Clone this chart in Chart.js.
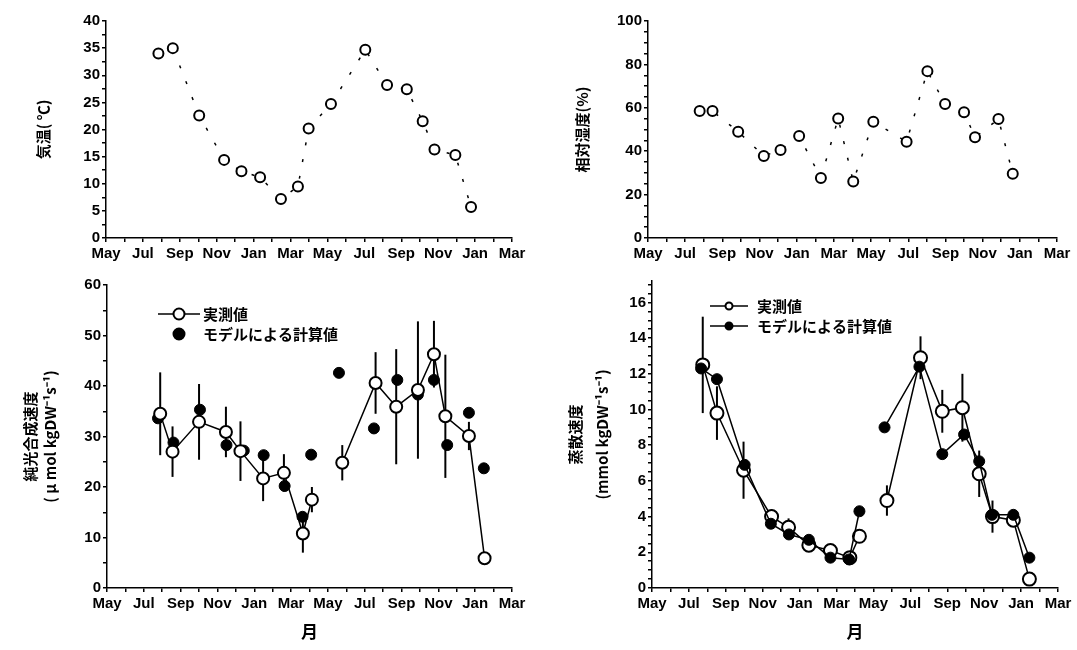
<!DOCTYPE html>
<html>
<head>
<meta charset="utf-8">
<script src="https://cdn.jsdelivr.net/npm/chart.js@4.4.0/dist/chart.umd.min.js"></script>
<style>
  body { margin: 0; background: #fff; width: 1077px; height: 650px; overflow: hidden; position: relative; }
  .box { position: absolute; }
</style>
</head>
<body>
<div class="box" style="left:0;top:0;width:540px;height:270px"><canvas id="tempChart"></canvas></div>
<div class="box" style="left:540px;top:0;width:537px;height:270px"><canvas id="humChart"></canvas></div>
<div class="box" style="left:0;top:270px;width:540px;height:380px"><canvas id="photoChart"></canvas></div>
<div class="box" style="left:540px;top:270px;width:537px;height:380px"><canvas id="transChart"></canvas></div>
<script>
// x axis: month index, 0 = May of first year, one tick per month
const monthLabels = ['May', 'Jul', 'Sep', 'Nov', 'Jan', 'Mar', 'May', 'Jul', 'Sep', 'Nov', 'Jan', 'Mar'];
const legendLabels = ['実測値', 'モデルによる計算値'];

// 気温
const tempMonth = [2.84, 3.62, 5.05, 6.4, 7.34, 8.35, 9.48, 10.4, 10.98, 12.19, 14.05, 15.23, 16.3, 17.16, 17.8, 18.93, 19.78];
const tempValue = [34.0, 35.0, 22.6, 14.4, 12.3, 11.2, 7.2, 9.5, 20.2, 24.7, 34.7, 28.2, 27.4, 21.5, 16.3, 15.3, 5.7];

// 相対湿度
const humMonth = [2.78, 3.47, 4.85, 6.23, 7.13, 8.13, 9.3, 10.23, 11.04, 12.12, 13.91, 15.03, 15.98, 17.0, 17.59, 18.85, 19.62];
const humValue = [58.5, 58.5, 49.0, 37.8, 40.6, 47.0, 27.6, 55.1, 26.0, 53.6, 44.4, 76.9, 61.7, 57.9, 46.4, 54.8, 29.6];

// 純光合成速度
const photoMonth = [2.89, 3.56, 5.0, 6.46, 7.25, 8.48, 9.61, 10.64, 11.13, 12.78, 14.59, 15.71, 16.89, 17.76, 18.38, 19.66, 20.51];
const photoMeasured = [34.5, 27.0, 32.9, 30.9, 27.1, 21.7, 22.8, 10.8, 17.5, 24.8, 40.6, 35.9, 39.2, 46.3, 34.0, 30.1, 5.9];
const photoError = [8.2, 5.0, 7.5, 5.0, 5.9, 4.5, 3.7, 3.8, 2.5, 3.5, 6.1, 11.4, 13.6, 6.6, 12.2, 2.8, 0.8];
const photoModelMonth = [2.77, 3.61, 5.05, 6.49, 7.43, 8.51, 9.65, 10.62, 11.09, 12.6, 14.5, 15.77, 16.89, 17.76, 18.48, 19.66, 20.47];
const photoModel = [33.6, 28.8, 35.3, 28.3, 27.2, 26.3, 20.2, 14.1, 26.4, 42.6, 31.6, 41.2, 38.3, 41.2, 28.3, 34.7, 23.7];

// 蒸散速度
const transMonth = [2.75, 3.52, 4.96, 6.48, 7.4, 8.5, 9.67, 10.72, 11.24, 12.73, 14.55, 15.73, 16.82, 17.73, 18.45, 19.58, 20.45];
const transMeasured = [12.5, 9.8, 6.6, 4.0, 3.4, 2.4, 2.1, 1.7, 2.9, 4.9, 12.9, 9.9, 10.1, 6.4, 4.0, 3.8, 0.5];
const transError = [2.7, 1.5, 1.6, 0.4, 0.5, 0.3, 0.3, 0.2, 0, 0.85, 1.2, 1.2, 1.9, 1.3, 0.9, 0.2, 0];
const transModelMonth = [2.66, 3.52, 5.02, 6.44, 7.42, 8.5, 9.67, 10.68, 11.24, 12.6, 14.49, 15.73, 16.91, 17.73, 18.42, 19.58, 20.45];
const transModel = [12.3, 11.7, 6.9, 3.6, 3.0, 2.7, 1.7, 1.6, 4.3, 9.0, 12.4, 7.5, 8.6, 7.1, 4.1, 4.1, 1.7];

const tickFont = { family: 'Liberation Sans', size: 15, weight: 'bold' };
const jpFont = 'Noto Sans CJK JP';

function pts(xs, ys) {
  return xs.map((x, i) => ({ x: x, y: ys[i] }));
}

// error bars + in-plot legend
const extras = {
  id: 'extras',
  beforeDatasetsDraw(chart, args, opts) {
    if (!opts.errors) return;
    const { ctx, scales: { x, y } } = chart;
    const data = chart.data.datasets[opts.dataset].data;
    ctx.save();
    ctx.strokeStyle = '#000';
    ctx.lineWidth = 2;
    data.forEach((p, i) => {
      const e = opts.errors[i];
      if (!e) return;
      const px = x.getPixelForValue(p.x);
      ctx.beginPath();
      ctx.moveTo(px, y.getPixelForValue(p.y - e));
      ctx.lineTo(px, y.getPixelForValue(p.y + e));
      ctx.stroke();
    });
    ctx.restore();
  },
  afterDraw(chart, args, opts) {
    if (!opts.legend) return;
    const { ctx, chartArea } = chart;
    const L = opts.legend;
    ctx.save();
    L.items.forEach((it, i) => {
      const yy = chartArea.top + L.top + i * L.gap;
      const x0 = chartArea.left + L.left;
      ctx.strokeStyle = '#000';
      ctx.lineWidth = 1.5;
      if (it.line) {
        ctx.beginPath();
        ctx.moveTo(x0, yy);
        ctx.lineTo(x0 + L.lineLen, yy);
        ctx.stroke();
      }
      ctx.beginPath();
      ctx.arc(x0 + L.lineLen / 2, yy, L.r, 0, Math.PI * 2);
      ctx.fillStyle = it.filled ? '#000' : '#fff';
      ctx.fill();
      ctx.lineWidth = 2;
      ctx.stroke();
      ctx.fillStyle = '#000';
      ctx.font = 'bold 15px "' + jpFont + '"';
      ctx.textBaseline = 'middle';
      ctx.fillText(it.text, x0 + L.lineLen + L.textGap, yy);
    });
    ctx.restore();
  }
};
Chart.register(extras);

function makeOptions(cfg) {
  return {
    responsive: true,
    maintainAspectRatio: false,
    animation: false,
    layout: { padding: cfg.padding },
    plugins: { legend: { display: false }, tooltip: { enabled: false }, extras: cfg.extras || {} },
    scales: {
      x: {
        type: 'linear', min: 0, max: 22,
        afterFit: s => { s.height = cfg.xHeight; },
        border: { color: '#000', width: 1.5 },
        grid: { drawOnChartArea: false, color: '#000', tickLength: 4, lineWidth: 1.5 },
        ticks: {
          stepSize: 1, autoSkip: false, maxRotation: 0, padding: 3, color: '#000', font: tickFont,
          includeBounds: false,
          callback: v => (Number.isInteger(v) && v % 2 === 0) ? monthLabels[v / 2] : ''
        },
        title: {
          display: !!cfg.xTitle, text: cfg.xTitle || '', color: '#000',
          font: { family: jpFont, size: 17, weight: 'bold' }, padding: { top: 0, bottom: 8 }
        }
      },
      y: {
        min: 0, max: cfg.yMax,
        afterFit: s => { s.width = cfg.yWidth; },
        border: { color: '#000', width: 1.5 },
        grid: { drawOnChartArea: false, color: '#000', tickLength: 4, lineWidth: 1.5 },
        ticks: {
          stepSize: cfg.yStep, autoSkip: false, padding: 2, color: '#000', font: tickFont,
          includeBounds: false,
          callback: v => {
            const r = v / cfg.yLabelStep;
            return (Math.abs(r - Math.round(r)) < 1e-6 && v <= cfg.yLabelMax) ? String(v) : '';
          }
        },
        title: {
          display: true, text: cfg.yTitle, color: '#000',
          font: { family: jpFont, size: 15, weight: 'bold', lineHeight: cfg.yTitleLH || 1.3 },
          padding: { top: cfg.yTitlePad, bottom: 0 }
        }
      }
    }
  };
}

function openSeries(data, extra) {
  return Object.assign({
    data: data,
    borderColor: '#000',
    borderWidth: 1.5,
    pointRadius: 5.5,
    pointBorderWidth: 2,
    pointBackgroundColor: '#fff',
    pointBorderColor: '#000',
    fill: false,
    tension: 0
  }, extra || {});
}

function filledSeries(data, extra) {
  return Object.assign({
    data: data,
    borderColor: '#000',
    borderWidth: 1.5,
    pointRadius: 5.5,
    pointBorderWidth: 1,
    pointBackgroundColor: '#000',
    pointBorderColor: '#000',
    fill: false,
    tension: 0
  }, extra || {});
}

const gapAt = 8; // no line drawn between these two sampling periods
const gapSegment = { borderColor: c => c.p0DataIndex === gapAt ? 'rgba(0,0,0,0)' : '#000' };

new Chart(document.getElementById('tempChart'), {
  type: 'line',
  data: { datasets: [openSeries(pts(tempMonth, tempValue), { borderDash: [3, 14], pointRadius: 5 })] },
  options: makeOptions({
    padding: { top: 21, right: 28, bottom: 0, left: 0 },
    xHeight: 32, yWidth: 106, yMax: 40, yStep: 2.5, yLabelStep: 5, yLabelMax: 40,
    yTitle: '気温( ℃)', yTitlePad: 34
  })
});

new Chart(document.getElementById('humChart'), {
  type: 'line',
  data: { datasets: [openSeries(pts(humMonth, humValue), { borderDash: [3, 14], pointRadius: 5 })] },
  options: makeOptions({
    padding: { top: 21, right: 20, bottom: 0, left: 0 },
    xHeight: 32, yWidth: 108, yMax: 100, yStep: 5, yLabelStep: 20, yLabelMax: 100,
    yTitle: '相対湿度(%)', yTitlePad: 33
  })
});

new Chart(document.getElementById('photoChart'), {
  type: 'line',
  data: {
    datasets: [
      openSeries(pts(photoMonth, photoMeasured), { segment: gapSegment, pointRadius: 6 }),
      filledSeries(pts(photoModelMonth, photoModel), { showLine: false })
    ]
  },
  options: makeOptions({
    padding: { top: 15, right: 28, bottom: 0, left: 0 },
    xHeight: 62, yWidth: 107, yMax: 60, yStep: 5, yLabelStep: 10, yLabelMax: 60,
    yTitle: ['純光合成速度', '( μ mol kgDW⁻¹s⁻¹)'], yTitlePad: 20, yTitleLH: 1.35,
    xTitle: '月',
    extras: {
      dataset: 0, errors: photoError,
      legend: {
        left: 51, top: 29, gap: 20, lineLen: 42, r: 5.5, textGap: 3,
        items: [
          { text: legendLabels[0], filled: false, line: true },
          { text: legendLabels[1], filled: true, line: false }
        ]
      }
    }
  })
});

new Chart(document.getElementById('transChart'), {
  type: 'line',
  data: {
    datasets: [
      filledSeries(pts(transModelMonth, transModel), { segment: gapSegment }),
      openSeries(pts(transMonth, transMeasured), { segment: gapSegment, pointRadius: 6.5 })
    ]
  },
  options: makeOptions({
    padding: { top: 8, right: 19, bottom: 0, left: 0 },
    xHeight: 62, yWidth: 112, yMax: 17.2, yStep: 0.5, yLabelStep: 2, yLabelMax: 16,
    yTitle: ['蒸散速度', '(mmol kgDW⁻¹s⁻¹)'], yTitlePad: 22, yTitleLH: 1.8,
    xTitle: '月',
    extras: {
      dataset: 1, errors: transError,
      legend: {
        left: 58, top: 25, gap: 20, lineLen: 38, r: 3.5, textGap: 9,
        items: [
          { text: legendLabels[0], filled: false, line: true },
          { text: legendLabels[1], filled: true, line: true }
        ]
      }
    }
  })
});
</script>
</body>
</html>
